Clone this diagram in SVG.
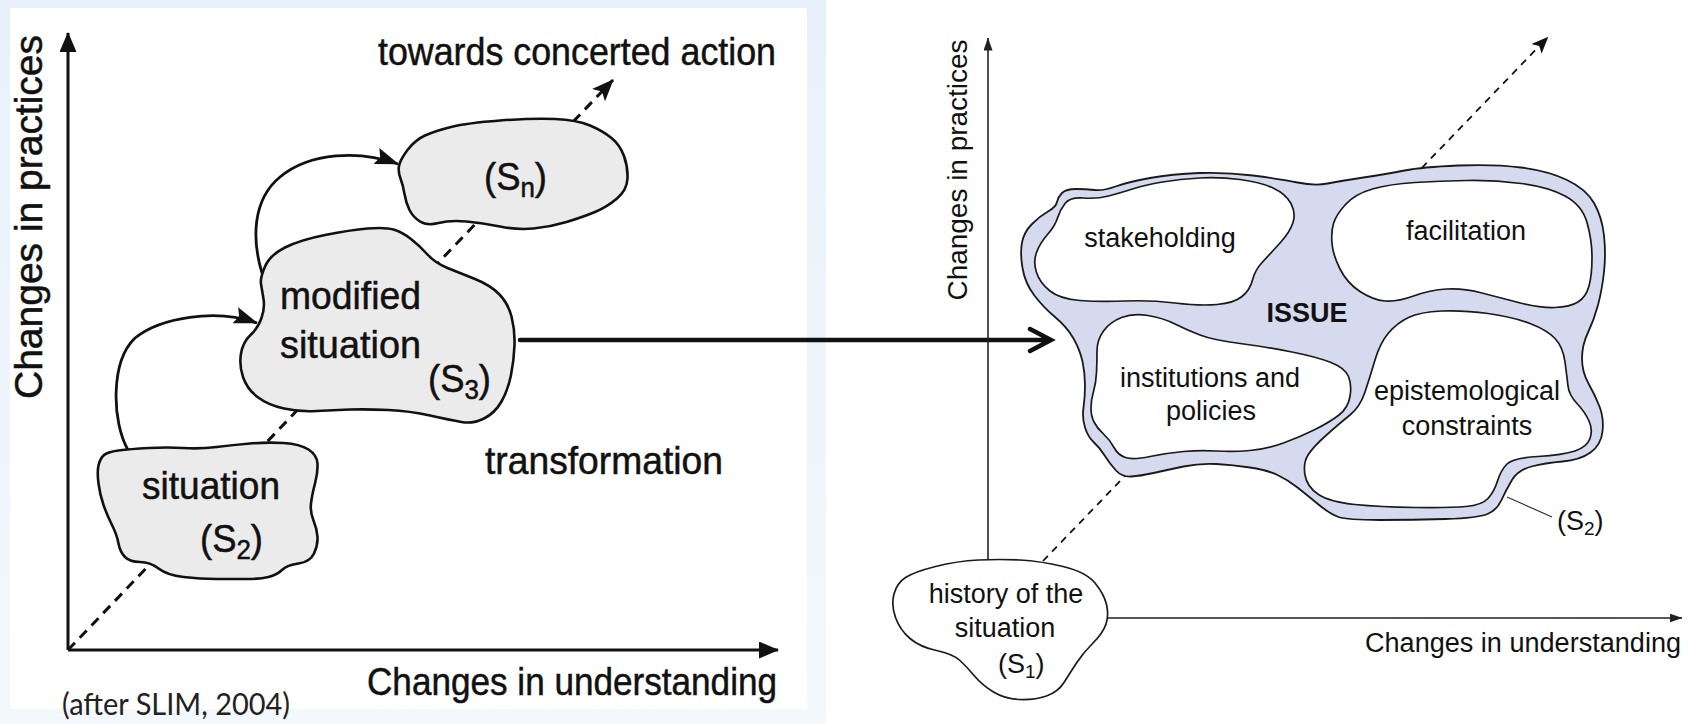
<svg xmlns="http://www.w3.org/2000/svg" width="1692" height="724" viewBox="0 0 1692 724">
<style>
.lt{font-family:"Liberation Sans",Arial,Helvetica,sans-serif;font-size:38px;fill:#111;stroke:#111;stroke-width:0.5}
.rt{font-family:"Liberation Sans",Arial,Helvetica,sans-serif;font-size:27px;fill:#111}
.note{font-family:Lato,"Open Sans",sans-serif;font-size:30px;fill:#222}
.cloudL{fill:#ebebeb;stroke:#111;stroke-width:2.6}
.issue{fill:#d6daee;stroke:#1a1a1a;stroke-width:1.8}
.inner{fill:#fff;stroke:#1a1a1a;stroke-width:1.7}
.axL{fill:none;stroke:#111;stroke-width:3}
.axR{fill:none;stroke:#222;stroke-width:1.6}
.dashL{fill:none;stroke:#111;stroke-width:3;stroke-dasharray:10 7}
.dashR{fill:none;stroke:#111;stroke-width:1.8;stroke-dasharray:7 6}
.curve{fill:none;stroke:#111;stroke-width:2.8}
</style>
<defs>
<linearGradient id="bgG" x1="0" y1="0" x2="0" y2="1">
<stop offset="0" stop-color="#e8f1fb"/>
<stop offset="1" stop-color="#f3f8fd"/>
</linearGradient>
<marker id="ahL" markerUnits="userSpaceOnUse" markerWidth="20" markerHeight="17" viewBox="0 0 20 17" refX="19" refY="8.5" orient="auto"><path d="M0,0 L20,8.5 L0,17 Z" fill="#111"/></marker>
<marker id="ahC" markerUnits="userSpaceOnUse" markerWidth="24" markerHeight="17" viewBox="0 0 24 17" refX="23" refY="8.5" orient="auto"><path d="M0,0 L24,8.5 L0,17 L4,8.5 Z" fill="#111"/></marker>
<marker id="ahLd" markerUnits="userSpaceOnUse" markerWidth="22" markerHeight="18" viewBox="0 0 22 18" refX="21" refY="9" orient="auto"><path d="M0,0 L22,9 L0,18 L5,9 Z" fill="#111"/></marker>
<marker id="ahR" markerUnits="userSpaceOnUse" markerWidth="13" markerHeight="9" viewBox="0 0 13 9" refX="12.5" refY="4.5" orient="auto"><path d="M0,0 L13,4.5 L0,9 Z" fill="#222"/></marker>
<marker id="ahRd" markerUnits="userSpaceOnUse" markerWidth="17" markerHeight="14" viewBox="0 0 17 14" refX="16.5" refY="7" orient="auto"><path d="M0,0 L17,7 L0,14 L4,7 Z" fill="#111"/></marker>
</defs>

<rect x="0" y="0" width="826" height="724" fill="url(#bgG)"/>
<rect x="10" y="8" width="797" height="701" fill="#ffffff"/>

<g id="connectors">
<path class="axL" d="M68,650 V33" marker-end="url(#ahL)"/>
<path class="axL" d="M68,650 H778" marker-end="url(#ahL)"/>
<path class="dashL" d="M68,650 L613,80" marker-end="url(#ahLd)"/>
<path class="curve" d="M128,450 C112,422 110,362 135,338 C160,318 215,308 257,323" marker-end="url(#ahC)"/>
<path class="curve" d="M262,273 C252,240 252,200 280,177 C310,152 360,150 398,164" marker-end="url(#ahC)"/>
<path d="M520,340 H1049 M1030,329 L1051,340 L1030,351" fill="none" stroke="#111" stroke-width="4.5" stroke-linecap="round" stroke-linejoin="miter"/>
<path class="axR" d="M988,562 V38" marker-end="url(#ahR)"/>
<path class="axR" d="M1106,618 H1682" marker-end="url(#ahR)"/>
<path class="dashR" d="M1043,561 L1548,37" marker-end="url(#ahRd)"/>
<path d="M1507,497 L1552,517" fill="none" stroke="#333" stroke-width="1.2"/>
</g>

<g id="node-s2-left">
<path class="cloudL" d="M103.5,455.5 Q107,452 118.5,450.5 Q130,449 148.5,448 Q167,447 183.5,448 Q200,449 216.5,447 Q233,445 250,443.5 Q267,442 283.5,443 Q300,444 308.5,449.5 Q317,455 317.5,463.5 Q318,472 315,483.5 Q312,495 311,503.5 Q310,512 313.5,520.5 Q317,529 317.5,537 Q318,545 314,553.5 Q310,562 298.5,563.5 Q287,565 282,570 Q277,575 268.5,577 Q260,579 246.5,579 Q233,579 216.5,579 Q200,579 183.5,577 Q167,575 158.5,568.5 Q150,562 140,562 Q130,562 125,557 Q120,552 118.5,543.5 Q117,535 112,525 Q107,515 103.5,505 Q100,495 98.5,483.5 Q97,472 98.5,465.5 Q100,459 103.5,455.5 Z"/>
<text class="lt" x="211" y="499" text-anchor="middle" textLength="138" lengthAdjust="spacingAndGlyphs">situation</text>
<text class="lt" x="200" y="552" textLength="63" lengthAdjust="spacingAndGlyphs">(S<tspan font-size="27" dy="7">2</tspan><tspan dy="-7">)</tspan></text>
</g>

<g id="node-s3-left">
<path class="cloudL" d="M261,284 Q260,278 265,266.5 Q270,255 285,247.5 Q300,240 325,235 Q350,230 367.5,228.5 Q385,227 393.5,229.5 Q402,232 411,239 Q420,246 427.5,254.5 Q435,263 447.5,268 Q460,273 475,279 Q490,285 499,294 Q508,303 511.5,316.5 Q515,330 514.5,345 Q514,360 511,375 Q508,390 501.5,401.5 Q495,413 484,418.5 Q473,424 461.5,422 Q450,420 430,415.5 Q410,411 388.5,410 Q367,409 350,409.5 Q333,410 316.5,411 Q300,412 284,408.5 Q268,405 257.5,397 Q247,389 243,377 Q239,365 241,353.5 Q243,342 250.5,335 Q258,328 261.5,318 Q265,308 263.5,299 Q262,290 261,284 Z"/>
<text class="lt" x="280" y="309" textLength="141" lengthAdjust="spacingAndGlyphs">modified</text>
<text class="lt" x="280" y="358" textLength="141" lengthAdjust="spacingAndGlyphs">situation</text>
<text class="lt" x="428" y="392" textLength="63" lengthAdjust="spacingAndGlyphs">(S<tspan font-size="27" dy="7">3</tspan><tspan dy="-7">)</tspan></text>
</g>

<g id="node-sn-left">
<path class="cloudL" d="M399,166 Q400,160 407.5,150 Q415,140 425,135.5 Q435,131 451,127 Q467,123 500,120.5 Q533,118 555,119 Q577,120 590,125.5 Q603,131 611.5,138 Q620,145 624,156 Q628,167 627.5,178.5 Q627,190 617,198.5 Q607,207 595,212 Q583,217 566.5,222 Q550,227 533.5,228.5 Q517,230 500,226.5 Q483,223 466.5,221.5 Q450,220 438.5,223 Q427,226 420,221.5 Q413,217 409.5,210 Q406,203 404.5,194 Q403,185 400.5,178.5 Q398,172 399,166 Z"/>
<text class="lt" x="484" y="190" textLength="63" lengthAdjust="spacingAndGlyphs">(S<tspan font-size="27" dy="7">n</tspan><tspan dy="-7">)</tspan></text>
</g>

<g id="labels-left">
<text class="lt" x="378" y="65" textLength="398" lengthAdjust="spacingAndGlyphs">towards concerted action</text>
<text class="lt" x="485" y="474" textLength="238" lengthAdjust="spacingAndGlyphs">transformation</text>
<text class="lt" x="367" y="695" textLength="410" lengthAdjust="spacingAndGlyphs">Changes in understanding</text>
<text class="lt" transform="translate(42,217) rotate(-90)" text-anchor="middle" textLength="364" lengthAdjust="spacingAndGlyphs">Changes in practices</text>
<text class="note" x="62" y="715" textLength="228" lengthAdjust="spacingAndGlyphs">(after SLIM, 2004)</text>
</g>

<g id="node-issue">
<path class="issue" d="M1057,202 Q1058,197 1062,193 Q1066,189 1076,189 Q1086,189 1094.5,190 Q1103,191 1115.5,186.5 Q1128,182 1150,178 Q1172,174 1199,173 Q1226,172 1253,175.5 Q1280,179 1297.5,182.5 Q1315,186 1327.5,183.5 Q1340,181 1363.5,177.5 Q1387,174 1404.5,170.5 Q1422,167 1458,165.5 Q1494,164 1521,167.5 Q1548,171 1567,180 Q1586,189 1594,203 Q1602,217 1604,235.5 Q1606,254 1604,272 Q1602,290 1598,305 Q1594,320 1588,332.5 Q1582,345 1582,358.5 Q1582,372 1588.5,383.5 Q1595,395 1599.5,406.5 Q1604,418 1602.5,431.5 Q1601,445 1590.5,452.5 Q1580,460 1562.5,461.5 Q1545,463 1531.5,466.5 Q1518,470 1512,480 Q1506,490 1501.5,500 Q1497,510 1487.5,514 Q1478,518 1445.5,519 Q1413,520 1380,520 Q1347,520 1338.5,517 Q1330,514 1318.5,504.5 Q1307,495 1297.5,487.5 Q1288,480 1277.5,475 Q1267,470 1250,467.5 Q1233,465 1216.5,464 Q1200,463 1183.5,466.5 Q1167,470 1153.5,473 Q1140,476 1131,476.5 Q1122,477 1116,470.5 Q1110,464 1105,456 Q1100,448 1094,442.5 Q1088,437 1085,427.5 Q1082,418 1083.5,407.5 Q1085,397 1085,385 Q1085,373 1082.5,361.5 Q1080,350 1073.5,338.5 Q1067,327 1055,317 Q1043,307 1034,295 Q1025,283 1022.5,268 Q1020,253 1022,242.5 Q1024,232 1032,224 Q1040,216 1048,211.5 Q1056,207 1057,202 Z"/>
<text class="rt" x="1307" y="322" text-anchor="middle" font-weight="bold">ISSUE</text>
</g>

<g id="node-stakeholding">
<path class="inner" d="M1065,203.5 Q1070,197 1083.5,198 Q1097,199 1108.5,196 Q1120,193 1132.5,189 Q1145,185 1162.5,182 Q1180,179 1200,178 Q1220,177 1240,179.5 Q1260,182 1273,188 Q1286,194 1291,203.5 Q1296,213 1293,222.5 Q1290,232 1280,243 Q1270,254 1262.5,262 Q1255,270 1252.5,280 Q1250,290 1242,296.5 Q1234,303 1217,304.5 Q1200,306 1175,303 Q1150,300 1125,301 Q1100,302 1080,300.5 Q1060,299 1050,291 Q1040,283 1036.5,272.5 Q1033,262 1036.5,252.5 Q1040,243 1047.5,234.5 Q1055,226 1057.5,218 Q1060,210 1065,203.5 Z"/>
<text class="rt" x="1160" y="247" text-anchor="middle">stakeholding</text>
</g>

<g id="node-facilitation">
<path class="inner" d="M1333.5,223.5 Q1336,215 1345.5,204.5 Q1355,194 1372.5,189 Q1390,184 1415,182.5 Q1440,181 1467,180.5 Q1494,180 1521,183.5 Q1548,187 1565,196 Q1582,205 1587,222.5 Q1592,240 1592,257.5 Q1592,275 1589,286 Q1586,297 1578,302 Q1570,307 1555,307.5 Q1540,308 1518.5,302.5 Q1497,297 1480,292.5 Q1463,288 1446.5,289 Q1430,290 1413.5,296 Q1397,302 1385,301 Q1373,300 1360,291.5 Q1347,283 1340,269 Q1333,255 1332,243.5 Q1331,232 1333.5,223.5 Z"/>
<text class="rt" x="1466" y="240" text-anchor="middle">facilitation</text>
</g>

<g id="node-institutions">
<path class="inner" d="M1097,351 Q1097,340 1103.5,331 Q1110,322 1121.5,317.5 Q1133,313 1148,315.5 Q1163,318 1175,324 Q1187,330 1200,335 Q1213,340 1240,343.5 Q1267,347 1292,352 Q1317,357 1331,362.5 Q1345,368 1348.5,376.5 Q1352,385 1350,396.5 Q1348,408 1339,415 Q1330,422 1315,429.5 Q1300,437 1283.5,443 Q1267,449 1250,450.5 Q1233,452 1216.5,451 Q1200,450 1183.5,451.5 Q1167,453 1150,456.5 Q1133,460 1125.5,457.5 Q1118,455 1114,447.5 Q1110,440 1103.5,434 Q1097,428 1094,422 Q1091,416 1091,408 Q1091,400 1093.5,391.5 Q1096,383 1096.5,372.5 Q1097,362 1097,351 Z"/>
<text class="rt" x="1210" y="387" text-anchor="middle">institutions and</text>
<text class="rt" x="1211" y="420" text-anchor="middle">policies</text>
</g>

<g id="node-epistemological">
<path class="inner" d="M1375,360 Q1380,343 1388.5,333 Q1397,323 1408.5,317.5 Q1420,312 1441.5,311 Q1463,310 1488,313.5 Q1513,317 1530,323.5 Q1547,330 1555,338.5 Q1563,347 1565,362 Q1567,377 1568,386 Q1569,395 1577,403.5 Q1585,412 1589,421 Q1593,430 1590,438.5 Q1587,447 1575,451 Q1563,455 1538,456.5 Q1513,458 1507,464 Q1501,470 1497.5,481 Q1494,492 1488,498.5 Q1482,505 1466,506.5 Q1450,508 1415,507.5 Q1380,507 1355,504.5 Q1330,502 1318.5,494.5 Q1307,487 1305,475 Q1303,463 1308,455 Q1313,447 1326.5,435 Q1340,423 1350,415 Q1360,407 1365,392 Q1370,377 1375,360 Z"/>
<text class="rt" x="1467" y="400" text-anchor="middle">epistemological</text>
<text class="rt" x="1467" y="435" text-anchor="middle">constraints</text>
</g>

<g id="node-history">
<path class="inner" d="M905.5,577.5 Q914,572 935.5,566.5 Q957,561 978.5,560 Q1000,559 1020,560 Q1040,561 1063,566.5 Q1086,572 1095,583 Q1104,594 1106.5,604.5 Q1109,615 1106,624 Q1103,633 1093,643 Q1083,653 1076.5,663 Q1070,673 1064,682.5 Q1058,692 1046.5,696 Q1035,700 1020,699.5 Q1005,699 993.5,692 Q982,685 974.5,676 Q967,667 960,660.5 Q953,654 936.5,650.5 Q920,647 910,638.5 Q900,630 895.5,617.5 Q891,605 894,594 Q897,583 905.5,577.5 Z"/>
<text class="rt" x="1006" y="603" text-anchor="middle">history of the</text>
<text class="rt" x="1005" y="637" text-anchor="middle">situation</text>
<text class="rt" x="998" y="673">(S<tspan font-size="19" dy="5">1</tspan><tspan dy="-5">)</tspan></text>
</g>

<g id="labels-right">
<text class="rt" x="1557" y="530">(S<tspan font-size="19" dy="5">2</tspan><tspan dy="-5">)</tspan></text>
<text class="rt" x="1681" y="652" text-anchor="end" textLength="316" lengthAdjust="spacingAndGlyphs">Changes in understanding</text>
<text class="rt" transform="translate(967,170) rotate(-90)" text-anchor="middle" textLength="261" lengthAdjust="spacingAndGlyphs">Changes in practices</text>
</g>
</svg>
